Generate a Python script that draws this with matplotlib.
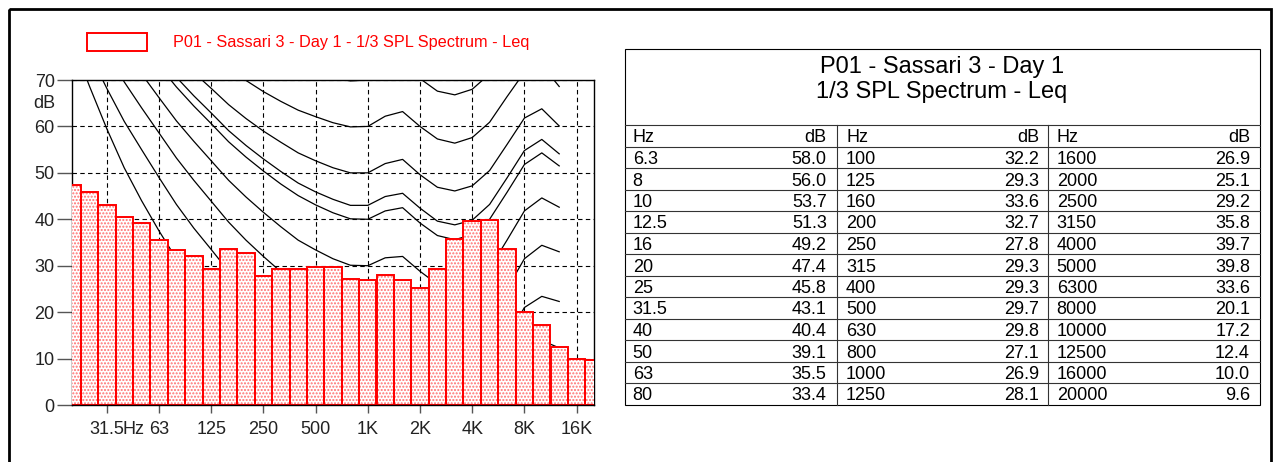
import numpy as np
import matplotlib.pyplot as plt
from matplotlib.patches import Rectangle

plt.rcParams['font.family'] = ['Liberation Sans', 'DejaVu Sans']
plt.rcParams['hatch.color'] = '#ff6f6f'
plt.rcParams['hatch.linewidth'] = 1.0

W, H = 1278, 462

TITLE = "P01 - Sassari 3 - Day 1"
SUBTITLE = "1/3 SPL Spectrum - Leq"
LEGEND = "P01 - Sassari 3 - Day 1 - 1/3 SPL Spectrum - Leq"

# 1/3 octave bands and Leq values (table)
hz_labels = ["6.3", "8", "10", "12.5", "16", "20", "25", "31.5", "40", "50", "63", "80",
             "100", "125", "160", "200", "250", "315", "400", "500", "630", "800", "1000", "1250",
             "1600", "2000", "2500", "3150", "4000", "5000", "6300", "8000", "10000", "12500",
             "16000", "20000"]
leq_db = [58.0, 56.0, 53.7, 51.3, 49.2, 47.4, 45.8, 43.1, 40.4, 39.1, 35.5, 33.4,
          32.2, 29.3, 33.6, 32.7, 27.8, 29.3, 29.3, 29.7, 29.8, 27.1, 26.9, 28.1,
          26.9, 25.1, 29.2, 35.8, 39.7, 39.8, 33.6, 20.1, 17.2, 12.4, 10.0, 9.6]

# chart shows the bands from 20 Hz to 20 kHz
first_band = hz_labels.index("20")
chart_db = leq_db[first_band:]

xtick_pos = [2, 5, 8, 11, 14, 17, 20, 23, 26, 29]
xtick_lab = ["31.5", "63", "125", "250", "500", "1K", "2K", "4K", "8K", "16K"]

# equal loudness contours, 20 Hz .. 12.5 kHz
phon_0 = [78.5, 68.7, 59.5, 51.1, 44.0, 37.5, 31.5, 26.5, 22.1, 17.9, 14.4, 11.4, 8.6, 6.2, 4.4,
          3.0, 2.2, 2.4, 3.5, 1.7, -1.3, -4.2, -6.0, -5.4, -1.5, 6.0, 12.6, 13.9, 12.3]
phon_10 = [83.8, 75.8, 68.2, 61.1, 55.0, 49.0, 43.2, 38.1, 33.5, 28.8, 24.8, 21.3, 18.1, 15.1, 13.0,
           11.2, 10.0, 10.0, 11.3, 10.4, 7.3, 4.5, 3.0, 3.8, 7.5, 14.4, 21.0, 23.4, 22.3]
phon_20 = [89.6, 82.7, 76.0, 69.6, 64.0, 58.6, 53.2, 48.4, 43.9, 39.4, 35.5, 32.0, 28.7, 25.7, 23.4,
           21.5, 20.1, 20.0, 21.5, 21.4, 18.2, 15.4, 14.3, 15.1, 18.6, 25.0, 31.5, 34.4, 33.0]
phon_30 = [94.9, 88.5, 82.4, 76.5, 71.3, 66.2, 61.2, 56.8, 52.6, 48.4, 44.8, 41.5, 38.4, 35.5, 33.4,
           31.5, 30.1, 30.0, 31.7, 32.0, 28.8, 26.0, 25.1, 26.0, 29.4, 35.5, 41.8, 44.6, 42.6]
phon_40 = [99.9, 93.9, 88.2, 82.6, 77.8, 73.1, 68.5, 64.4, 60.6, 56.7, 53.4, 50.4, 47.6, 45.1, 43.1,
           41.4, 40.1, 40.0, 41.8, 42.5, 39.2, 36.5, 35.6, 36.7, 40.0, 45.8, 51.8, 54.3, 51.5]
phon_43 = [101.7, 96.0, 90.3, 84.9, 80.2, 75.1, 70.6, 66.6, 62.9, 59.1, 55.9, 53.0, 50.3, 47.8, 45.9,
           44.3, 43.0, 43.0, 44.9, 45.6, 42.4, 39.6, 38.8, 39.8, 43.2, 48.9, 54.8, 57.2, 54.1]
phon_50 = [105.0, 99.5, 94.0, 88.7, 84.0, 79.6, 75.4, 71.6, 68.2, 64.7, 61.7, 59.0, 56.6, 54.3, 52.6,
           51.1, 50.0, 50.0, 52.0, 52.9, 49.6, 46.9, 46.1, 47.2, 50.5, 56.1, 61.8, 63.8, 60.1]
phon_60 = [109.5, 104.0, 99.0, 94.4, 90.0, 85.9, 82.0, 78.7, 75.6, 72.5, 69.9, 67.5, 65.4, 63.5, 62.1,
           60.8, 59.9, 60.0, 62.2, 63.2, 60.0, 57.3, 56.4, 57.6, 60.9, 66.4, 71.7, 73.2, 68.6]
phon_70 = [114.0, 109.0, 104.5, 100.0, 96.0, 92.0, 88.5, 85.5, 82.7, 80.2, 77.9, 75.9, 74.2, 72.6, 71.5,
           70.5, 69.8, 70.0, 72.3, 73.5, 70.3, 67.6, 66.8, 68.0, 71.3, 76.6, 81.5, 82.0, 77.0]
contours = [phon_0, phon_10, phon_20, phon_30, phon_40, phon_43, phon_50, phon_60, phon_70]

fig = plt.figure(figsize=(W / 100, H / 100), dpi=100)
ax = fig.add_axes([72 / W, 1 - 405 / H, 522 / W, 325 / H])

x = np.arange(len(chart_db))
for c in contours:
    ax.plot(np.arange(len(c)), c, color='black', lw=0.9, zorder=2)
ax.bar(x, chart_db, width=1.0, color='white', hatch='.....', lw=0, zorder=3)
ax.bar(x, chart_db, width=1.0, fill=False, edgecolor='red', lw=1.4, zorder=4)

ax.set_xlim(0, len(chart_db) - 1)
ax.set_ylim(0, 70)
ax.set_yticks(range(0, 71, 10))
ax.set_xticks(xtick_pos, xtick_lab)
ax.set_xticks([3.56], ["Hz"], minor=True)
ax.set_axisbelow(True)
ax.grid(True, which='major', color='black', lw=0.8, ls=(0, (4, 3)))
ax.tick_params(axis='y', direction='out', length=11, width=1, color='#555',
               labelsize=13, labelcolor='#222', pad=1.5)
ax.tick_params(axis='x', which='major', direction='out', length=6, width=1, color='#555',
               labelsize=13, labelcolor='#222', pad=5.5)
ax.tick_params(axis='x', which='minor', length=0, labelsize=13, labelcolor='#222', pad=11.5)
for s in ax.spines.values():
    s.set_linewidth(1.0)
    s.set_color('black')
ax.spines['bottom'].set_zorder(5)
ax.text(-0.031, 65, "dB", transform=ax.get_yaxis_transform(), ha='right', va='center',
        fontsize=13, color='#222')

# overlay in pixel coordinates: frame, legend, table
ov = fig.add_axes([0, 0, 1, 1])
ov.set_xlim(0, W)
ov.set_ylim(H, 0)
ov.axis('off')
ov.add_patch(Rectangle((8.5, 8.5), 1262, 480, fill=False, lw=2.0, ec='black'))

ov.add_patch(Rectangle((87, 33), 60, 18, color='white', hatch='.....', lw=0))
ov.add_patch(Rectangle((87, 33), 60, 18, fill=False, ec='red', lw=1.4))
ov.text(173, 46.5, LEGEND, color='red', fontsize=11.7, ha='left', va='baseline')

tx0, tx1, ty0, ty1 = 624.5, 1259.5, 49, 404.5
head_y = 125
row_h = (ty1 - head_y) / 13
ov.add_patch(Rectangle((tx0, ty0), tx1 - tx0, ty1 - ty0, fill=False, ec='black', lw=0.8))
tcx = (tx0 + tx1) / 2
ov.text(tcx, 73, TITLE, fontsize=17, ha='center', va='baseline')
ov.text(tcx, 98, SUBTITLE, fontsize=17, ha='center', va='baseline')
for r in range(13):
    yb = head_y + r * row_h
    ov.plot([tx0, tx1], [yb, yb], color='#333', lw=0.8)
for xs in (836.7, 1048.3):
    ov.plot([xs, xs], [head_y, ty1], color='#333', lw=0.8)

hz_left = [632.7, 846, 1056.7]
db_right = [826.7, 1039, 1250]
for g in range(3):
    base = head_y + row_h - 4
    ov.text(hz_left[g], base, "Hz", fontsize=13, ha='left', va='baseline')
    ov.text(db_right[g], base, "dB", fontsize=13, ha='right', va='baseline')
    for r in range(12):
        k = g * 12 + r
        base = head_y + (r + 2) * row_h - 4
        ov.text(hz_left[g], base, hz_labels[k], fontsize=13, ha='left', va='baseline')
        ov.text(db_right[g], base, f"{leq_db[k]:.1f}", fontsize=13, ha='right', va='baseline')

fig.savefig("out.png", dpi=100)
